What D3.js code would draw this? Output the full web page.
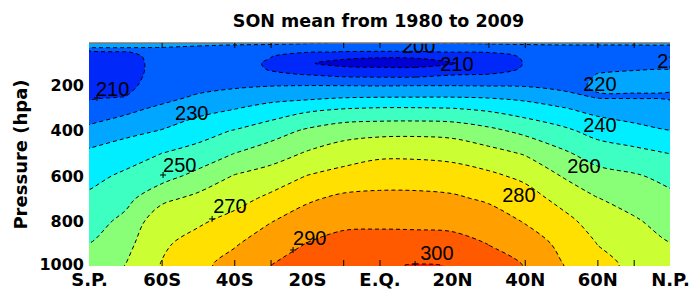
<!DOCTYPE html>
<html>
<head>
<meta charset="utf-8">
<script src="https://cdn.jsdelivr.net/npm/d3@7"></script>
<style>
  body { margin: 0; background: #fff; }
  svg { display: block; }
</style>
</head>
<body>
<svg id="chart" width="690" height="293"></svg>
<script>
// ---------------- DATA ----------------
const latitudes = [-80, -70, -60, -50, -40, -30, -20, -10, 0, 10, 20, 30, 40, 50, 60, 70, 80];
const pressureLevels = [10, 30, 50, 70, 100, 125, 150, 200, 250, 300, 400, 500, 600, 700, 800, 900, 1000];

// Zonal-mean temperature (K), one column per latitude, values at pressureLevels
const temp80S = [225, 220.5, 207, 205, 204, 204, 204.5, 206, 209.2, 212, 223, 232, 237.5, 241.5, 245.5, 250, 254];
const temp70S = [225, 220.5, 209.5, 207, 206, 206, 206.5, 208, 210.1, 217, 227, 236, 241.5, 247, 252.5, 257, 260.2];
const temp60S = [225, 220, 214, 213.5, 213.5, 213.5, 213.5, 214, 216.5, 222, 230.5, 240, 246, 257.5, 266.5, 268.5, 270.5];
const temp50S = [224, 218, 214, 213, 213, 213, 213.5, 216.5, 221.5, 226, 236.5, 243, 253, 262.5, 268.5, 273.5, 277.5];
const temp40S = [223, 216, 213, 212.5, 213, 213, 213.5, 218.5, 224.5, 229.5, 240.5, 250, 260.5, 266.5, 273, 279, 283.7];
const temp30S = [222.5, 215, 212, 210.3, 209, 209.5, 211, 219.8, 226.5, 233.5, 245.5, 255, 264.5, 272, 279.5, 285, 290.1];
const temp20S = [221, 214, 210.5, 203.5, 200.6, 203, 209.8, 220.2, 227.5, 237.5, 251.5, 261, 270.2, 278.5, 284.5, 290.2, 293.5];
const temp10S = [219.5, 213, 209.7, 201.5, 198, 201.5, 207.5, 220.1, 229.3, 239.6, 256, 265, 273.5, 282, 288, 292.7, 297];
const tempEQ  = [219, 213, 209.5, 201, 196, 201.5, 207, 219.8, 229.8, 240.6, 257, 268, 275.5, 282.5, 288, 293.5, 298.8];
const temp10N = [219.5, 213, 209.5, 201.2, 196.5, 201.3, 207, 220.1, 229.9, 240.6, 257.3, 268, 275.5, 282.4, 287.8, 293.4, 300.6];
const temp20N = [220.5, 213.5, 210.2, 203, 199.5, 202.5, 209.5, 220.1, 229.9, 240.1, 256.5, 267, 274.5, 281.5, 287.3, 293, 299.8];
const temp30N = [221.5, 214, 210.5, 206, 204, 205.5, 210.3, 219.8, 229.2, 238, 252.5, 263.5, 272, 278.5, 285, 289.8, 293];
const temp40N = [222, 216, 213, 211, 210.4, 211, 213, 219.5, 227.5, 234.5, 247.5, 259.2, 267.8, 274.5, 279.3, 285, 289.8];
const temp50N = [222, 217.5, 215, 214, 214, 214, 214.5, 217.5, 223.5, 230.8, 242.5, 252, 259.8, 267, 273.5, 278, 280.6];
const temp60N = [222, 217.5, 215.5, 215, 216.5, 218.5, 220.3, 221, 219.3, 226.5, 236.5, 245.5, 253.5, 260.3, 265.5, 269.8, 273];
const temp70N = [222, 217.5, 216, 216, 217.5, 219.5, 221.2, 221.3, 219.3, 224.5, 233, 243, 251, 256, 261.2, 265, 268];
const temp80N = [222, 217.5, 216.5, 217, 218.5, 219.8, 221.3, 221, 219.2, 222.3, 230.2, 239.8, 247.5, 252, 256, 260.2, 264];

const contourLevels = [200, 210, 220, 230, 240, 250, 260, 270, 280, 290, 300];

const xTickValues = [-80, -60, -40, -20, 0, 20, 40, 60, 80];
const xTickLabels = ["S.P.", "60S", "40S", "20S", "E.Q.", "20N", "40N", "60N", "N.P."];
const xMarkTop = [-60, -40, -30, -10, 0, 30, 40, 60, 70];
const xMarkBottom = [-60, -40, -30, -10, 0, 40, 60, 70];
const yTickValues = [200, 400, 600, 800, 1000];
const yTickLabels = ["200", "400", "600", "800", "1000"];

// Contour labels (value, lat, pressure of text anchor)
const labelValues = [210, 230, 250, 270, 290, 300, 280, 260, 240, 220, 220, 210, 200];
const labelLat    = [-78.1, -56.3, -59.6, -45.8, -23.8, 11.2, 33.8, 51.7, 56.1, 56.1, 76.5, 16.7, 6.2];
const labelP      = [245, 352, 583, 765, 907, 973, 716, 587, 405, 223, 121, 134, 54];
// '+' markers of labels
const plusLat = [-77.8, -59.6, -46.1, -23.8, 9.8];
const plusP   = [254, 596, 791, 929, 991];

const titleText = "SON mean from 1980 to 2009";
const yTitle = "Pressure (hpa)";

// ---------------- STYLE ----------------
const bandColors = ["#0000D2", "#0028F8", "#0060FF", "#00A6FF", "#00EEFF", "#3DFFC2",
                    "#88FF77", "#CCFF33", "#FFE000", "#FFA000", "#FF5A00", "#FF1800"];
const W = 690, H = 293;
const plotLeft = 89, plotRight = 670, plotTop = 43, plotBottom = 266;

// ---------------- BUILD ----------------
const columns = [temp80S, temp70S, temp60S, temp50S, temp40S, temp30S, temp20S, temp10S, tempEQ,
                 temp10N, temp20N, temp30N, temp40N, temp50N, temp60N, temp70N, temp80N];
const nx = latitudes.length, ny = pressureLevels.length;
const grid = new Array(nx * ny);
for (let j = 0; j < ny; j++) for (let i = 0; i < nx; i++) grid[j * nx + i] = columns[i][j];

const x = d3.scaleLinear().domain([-80, 80]).range([plotLeft, plotRight]);
const y = d3.scaleLinear().domain([10, 1000]).range([plotTop, plotBottom]);
// grid index -> data coordinates (sample i sits at i + 0.5 in d3.contours space)
const gx = d3.scaleLinear().domain(latitudes.map((_, i) => i + 0.5)).range(latitudes);
const gy = d3.scaleLinear().domain(pressureLevels.map((_, i) => i + 0.5)).range(pressureLevels);

const contours = d3.contours().size([nx, ny]).thresholds(contourLevels)(grid);

const ringLine = d3.line().curve(d3.curveCatmullRomClosed.alpha(0.5));
function ringPath(ring) {
  const pts = ring.slice(0, -1).map(([a, b]) => [x(gx(a)), y(gy(b))]);
  return ringLine(pts);
}
function geomPath(g) {
  return g.coordinates.map(poly => poly.map(ringPath).join("")).join("");
}

const svg = d3.select("#chart");
svg.append("rect").attr("width", W).attr("height", H).attr("fill", "#fff");
svg.append("defs").append("clipPath").attr("id", "plotClip")
  .append("rect").attr("x", plotLeft).attr("y", plotTop)
  .attr("width", plotRight - plotLeft).attr("height", plotBottom - plotTop);

const plot = svg.append("g").attr("clip-path", "url(#plotClip)");
plot.append("rect").attr("x", plotLeft).attr("y", plotTop)
  .attr("width", plotRight - plotLeft).attr("height", plotBottom - plotTop)
  .attr("fill", bandColors[0]);

contours.forEach((c, k) => {
  plot.append("path").attr("d", geomPath(c)).attr("fill", bandColors[k + 1]).attr("fill-rule", "evenodd");
});
contours.forEach(c => {
  plot.append("path").attr("d", geomPath(c)).attr("fill", "none")
    .attr("stroke", "#000").attr("stroke-width", 1).attr("stroke-dasharray", "4,3");
});

// contour labels
plot.selectAll("text.clabel").data(labelValues).join("text")
  .attr("class", "clabel")
  .attr("x", (d, i) => x(labelLat[i]))
  .attr("y", (d, i) => y(labelP[i]))
  .attr("font-family", "Liberation Sans, Arial, sans-serif")
  .attr("font-size", 20)
  .attr("fill", "#000")
  .text(d => d);

plot.selectAll("path.plus").data(plusLat).join("path")
  .attr("class", "plus")
  .attr("d", (d, i) => {
    const px = x(d), py = y(plusP[i]);
    return `M${px - 3},${py}H${px + 3}M${px},${py - 3}V${py + 3}`;
  })
  .attr("stroke", "#000").attr("stroke-width", 1);

// frame top line
svg.append("line").attr("x1", plotLeft).attr("x2", plotRight).attr("y1", plotTop).attr("y2", plotTop)
  .attr("stroke", "#777").attr("stroke-width", 1.5);

// tick marks
const topMarks = svg.append("g").attr("transform", `translate(0,${plotTop})`)
  .call(d3.axisTop(x).tickValues(xMarkTop).tickSize(-5).tickFormat(""));
topMarks.select(".domain").remove();
const botMarks = svg.append("g").attr("transform", `translate(0,${plotBottom})`)
  .call(d3.axisBottom(x).tickValues(xMarkBottom).tickSize(-6).tickFormat(""));
botMarks.select(".domain").remove();

// x labels
const xAxis = svg.append("g").attr("transform", `translate(0,${plotBottom})`)
  .call(d3.axisBottom(x).tickValues(xTickValues).tickFormat((d, i) => xTickLabels[i]).tickSize(0).tickPadding(7));
xAxis.select(".domain").remove();
xAxis.selectAll("text").attr("font-family", "DejaVu Sans, sans-serif").attr("font-weight", "bold")
  .attr("font-size", 18).attr("fill", "#000");

// y labels
const yAxis = svg.append("g").attr("transform", `translate(${plotLeft},0)`)
  .call(d3.axisLeft(y).tickValues(yTickValues).tickFormat((d, i) => yTickLabels[i]).tickSize(0).tickPadding(5));
yAxis.select(".domain").remove();
yAxis.selectAll("text").attr("font-family", "DejaVu Sans, sans-serif").attr("font-weight", "bold")
  .attr("font-size", 16).attr("fill", "#000");
yAxis.selectAll("text").filter(d => d === 1000).attr("dy", "0.2em");

// title
svg.append("text").attr("x", 378.5).attr("y", 27).attr("text-anchor", "middle")
  .attr("font-family", "DejaVu Sans, sans-serif").attr("font-weight", "bold").attr("font-size", 17.5)
  .attr("fill", "#000").text(titleText);

// y title
svg.append("text").attr("transform", "translate(27,154.5) rotate(-90)").attr("text-anchor", "middle")
  .attr("font-family", "DejaVu Sans, sans-serif").attr("font-weight", "bold").attr("font-size", 18)
  .attr("fill", "#000").text(yTitle);
</script>
</body>
</html>
